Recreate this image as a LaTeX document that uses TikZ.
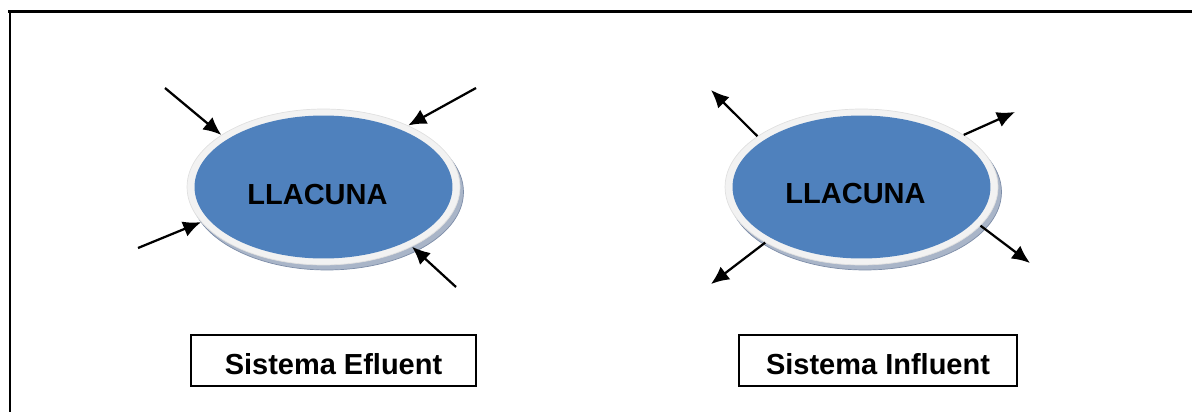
\documentclass[tikz,border=0pt]{standalone}
\usepackage{fontspec}
\setmainfont{Liberation Sans}
\usepackage{tikz}
\usetikzlibrary{arrows.meta,shapes.geometric}
\definecolor{lakeblue}{HTML}{4F81BD}
\definecolor{rimgray}{HTML}{F2F2F2}
\definecolor{edgeblue}{HTML}{A9B5C8}
\definecolor{edgeline}{HTML}{7D8DA8}

\begin{document}
\begin{tikzpicture}[x=0.02cm,y=-0.02cm,
  frame/.style={line width=0.06cm,draw=black},
  edge/.style={ellipse,inner sep=0pt,fill=edgeblue,draw=edgeline,thin,
    minimum width=5.46cm,minimum height=3.12cm},
  rim/.style={ellipse,inner sep=0pt,fill=rimgray,draw=black!12,
    minimum width=5.46cm,minimum height=3.12cm},
  lake/.style={ellipse,inner sep=0pt,fill=lakeblue,
    minimum width=5.16cm,minimum height=2.86cm},
  lbl/.style={font=\fontsize{16.5}{19}\selectfont\bfseries},
  caption/.style={lbl,draw=black,line width=0.8pt,minimum height=1.02cm,
    text height=0.556cm,text depth=0pt},
  flow/.style={-{Latex[length=0.36cm,width=0.32cm]},line width=0.045cm}]
 \useasboundingbox (0,0) rectangle (1192,412);
 \draw[frame] (8,12) -- (1192,12);
 \draw[frame] (10,11) -- (10,412);

 % efluent: water runs into the lagoon
 \node[edge] (edgeA) at (327,192) {};
 \node[rim] (rimA) at (323.5,187) {};
 \node[lake] (lakeA) at (323.5,187) {};
 \node[lbl] (nameA) at ([shift={(-6,8)}]lakeA.center) {LLACUNA};
 \coordinate (inA1) at (165,88);
 \coordinate (inA2) at (476,88);
 \coordinate (inA3) at (138,248);
 \coordinate (inA4) at (456,287);
 \draw[flow] (inA1) -- (rimA.153);
 \draw[flow] (inA2) -- (rimA.36);
 \draw[flow] (inA3) -- (rimA.196);
 \draw[flow] (inA4) -- (rimA.326);
 \node[caption,minimum width=5.7cm] (capA) at (333.5,360.5) {Sistema Efluent};

 % influent: water leaves the lagoon
 \node[edge] (edgeB) at (865,192) {};
 \node[rim] (rimB) at (861.5,187) {};
 \node[lake] (lakeB) at (861.5,187) {};
 \node[lbl] (nameB) at ([shift={(-6,7)}]lakeB.center) {LLACUNA};
 \coordinate (outB1) at (711,90);
 \coordinate (outB2) at (1015,112);
 \coordinate (outB3) at (711,284);
 \coordinate (outB4) at (1030,263);
 \draw[flow] (rimB.154) -- (outB1);
 \draw[flow] (rimB.27) -- (outB2);
 \draw[flow] (rimB.210) -- (outB3);
 \draw[flow] (rimB.342) -- (outB4);
 \node[caption,minimum width=5.56cm] (capB) at (878,360.5) {Sistema Influent};
\end{tikzpicture}
\end{document}
